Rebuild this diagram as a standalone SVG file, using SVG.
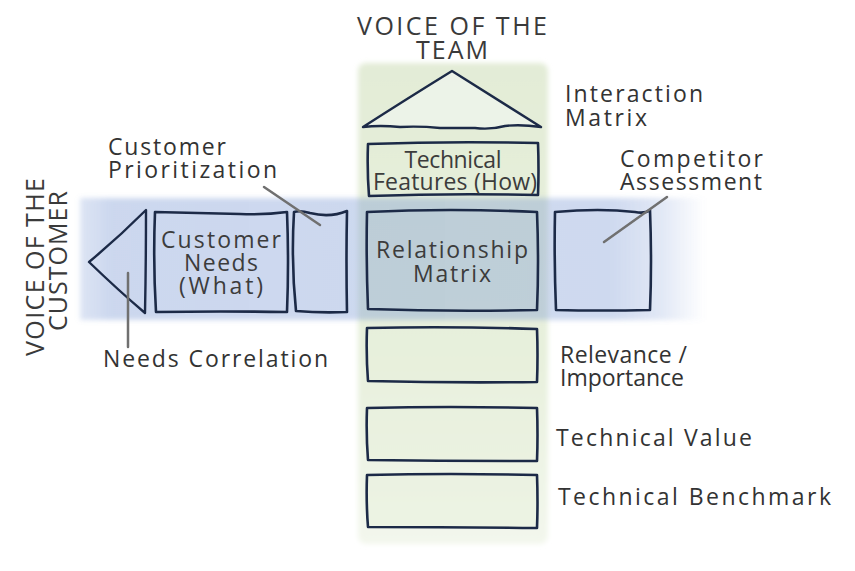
<svg xmlns="http://www.w3.org/2000/svg" width="855" height="571" viewBox="0 0 855 571">
<defs>
<linearGradient id="gGreen" x1="0" y1="0" x2="0" y2="1">
<stop offset="0" stop-color="#e3ecd7"/>
<stop offset="0.6" stop-color="#e7f0dc"/>
<stop offset="1" stop-color="#f3f7ed"/>
</linearGradient>
<linearGradient id="gBlue" x1="80" y1="0" x2="705" y2="0" gradientUnits="userSpaceOnUse">
<stop offset="0" stop-color="#7896d2" stop-opacity="0.25"/>
<stop offset="0.05" stop-color="#7896d2" stop-opacity="0.38"/>
<stop offset="0.85" stop-color="#7896d2" stop-opacity="0.36"/>
<stop offset="0.93" stop-color="#7896d2" stop-opacity="0.22"/>
<stop offset="1" stop-color="#7896d2" stop-opacity="0"/>
</linearGradient>
<filter id="soft" x="-5%" y="-5%" width="110%" height="110%"><feGaussianBlur stdDeviation="2.5"/></filter>
</defs>
<style>
.box{fill:none;stroke:#1c2a47;stroke-width:2.6;stroke-linejoin:round;stroke-linecap:round}
.lbox{fill:#e8f0dc;fill-opacity:0.5;stroke:#1c2a47;stroke-width:2.6;stroke-linejoin:round}
.tri{fill:#f2f6f3;fill-opacity:0.6;stroke:#1c2a47;stroke-width:2.4;stroke-linejoin:round}
.lead{stroke:#707070;stroke-width:2.5;fill:none;stroke-linecap:round}
text{font-family:"Open Sans","Liberation Sans",sans-serif;fill:#333;font-size:23px}
.in{fill:#3c3c3c}
.c{text-anchor:middle}
.voice{font-size:25px;fill:#3a3a3a}
</style>
<rect width="855" height="571" fill="#ffffff"/>
<g id="bands">
<rect x="358" y="63" width="190" height="481" rx="8" fill="url(#gGreen)" filter="url(#soft)"/>
<rect x="80" y="198" width="625" height="122" fill="url(#gBlue)" filter="url(#soft)"/>
</g>
<g id="voice-team">
<text class="voice c" x="452" y="35" textLength="190" lengthAdjust="spacing">VOICE OF THE</text>
<text class="voice c" x="452" y="59" textLength="72" lengthAdjust="spacing">TEAM</text>
</g>
<g id="voice-customer">
<text class="voice c" transform="translate(44,267) rotate(-90)" textLength="178" lengthAdjust="spacing">VOICE OF THE</text>
<text class="voice c" transform="translate(67,261) rotate(-90)" textLength="140" lengthAdjust="spacing">CUSTOMER</text>
</g>
<g id="interaction-matrix">
<path class="tri" d="M363,127 Q405,100 452,71 Q495,98 541,127 Q520,124 505,126 Q490,130 475,128 Q455,128 440,128 Q420,126 400,127 Q380,125 363,127 Z"/>
</g>
<g id="technical-features">
<path class="box" d="M368,144 Q450,141 538,143 Q539,170 538,195 Q452,193 369,196 Q367,170 368,144 Z"/>
<text class="in c" x="453" y="168" font-size="22" textLength="97" lengthAdjust="spacing">Technical</text>
<text class="in c" x="455" y="190" font-size="22" textLength="164" lengthAdjust="spacing">Features (How)</text>
</g>
<g id="relationship-matrix">
<path class="box" d="M367,212 Q450,208 537,212 Q539,262 537,310 Q452,312 368,309 Q366,260 367,212 Z"/>
<text class="in c" x="452" y="258" font-size="24" textLength="152" lengthAdjust="spacing">Relationship</text>
<text class="in c" x="452" y="282" font-size="24" textLength="78" lengthAdjust="spacing">Matrix</text>
</g>
<g id="competitor-assessment">
<path class="box" d="M555,212 Q600,208 635,212 Q645,214 650,210 Q652,262 650,310 Q600,311 556,310 Q554,260 555,212 Z"/>
</g>
<g id="customer-needs">
<path class="box" d="M155,212 Q200,213 240,214 Q265,215 287,212 Q289,262 287,312 Q220,311 156,312 Q153,262 155,212 Z"/>
<text class="in c" x="221" y="248" font-size="24" textLength="120" lengthAdjust="spacing">Customer</text>
<text class="in c" x="221" y="271" font-size="24" textLength="74" lengthAdjust="spacing">Needs</text>
<text class="in c" x="221" y="294" font-size="24" textLength="84" lengthAdjust="spacing">(What)</text>
</g>
<g id="customer-prioritization">
<path class="box" d="M294,212 Q300,210 310,213 Q330,218 347,211 Q346,262 347,312 Q320,313 296,311 Q291,262 294,212 Z"/>
</g>
<g id="needs-correlation">
<path class="tri" style="fill:none" d="M146,210 Q146,262 145,313 Q118,290 89,262 Q118,238 146,210 Z"/>
</g>
<g id="relevance-importance">
<path class="lbox" d="M367,328 Q450,326 537,329 Q538,355 537,382 Q452,383 368,381 Q366,355 367,328 Z"/>
</g>
<g id="technical-value">
<path class="lbox" d="M367,408 Q450,406 537,408 Q538,435 537,461 Q452,461 368,460 Q366,435 367,408 Z"/>
</g>
<g id="technical-benchmark">
<path class="lbox" d="M367,475 Q450,473 537,475 Q538,502 537,528 Q452,527 368,527 Q366,502 367,475 Z"/>
</g>
<g id="connectors">
<path class="lead" d="M264,187 L320,225"/>
<path class="lead" d="M128,273 L128,347"/>
<path class="lead" d="M667,197 L604,242"/>
</g>
<g id="labels">
<text x="565" y="102" textLength="138" lengthAdjust="spacing">Interaction</text>
<text x="565" y="126" textLength="82" lengthAdjust="spacing">Matrix</text>
<text x="620" y="167" textLength="143" lengthAdjust="spacing">Competitor</text>
<text x="620" y="190" textLength="142" lengthAdjust="spacing">Assessment</text>
<text x="108" y="155" textLength="118" lengthAdjust="spacing">Customer</text>
<text x="108" y="178" textLength="169" lengthAdjust="spacing">Prioritization</text>
<text x="103" y="367" textLength="225" lengthAdjust="spacing">Needs Correlation</text>
<text x="560" y="363" textLength="127" lengthAdjust="spacing">Relevance /</text>
<text x="560" y="386" textLength="124" lengthAdjust="spacing">Importance</text>
<text x="556" y="446" textLength="196" lengthAdjust="spacing">Technical Value</text>
<text x="558" y="505" textLength="273" lengthAdjust="spacing">Technical Benchmark</text>
</g>
</svg>
